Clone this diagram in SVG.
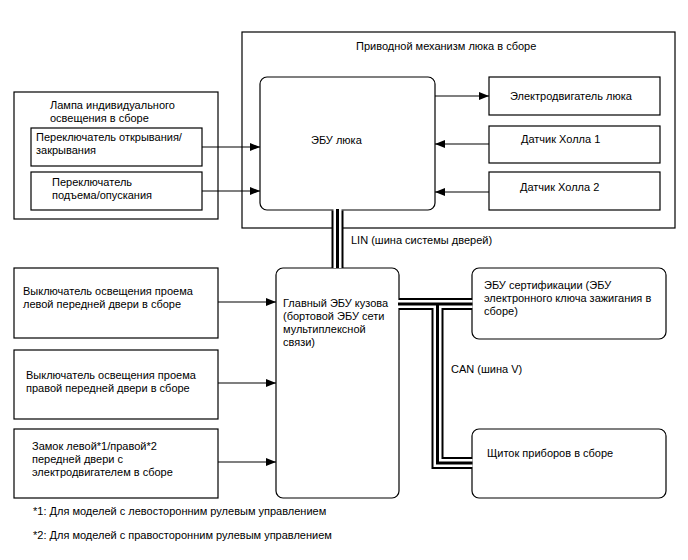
<svg xmlns="http://www.w3.org/2000/svg" width="688" height="560" viewBox="0 0 688 560">
<style>
text{font-family:"Liberation Sans",Arial,sans-serif;font-size:11px;fill:#000}
.box{fill:#fff;stroke:#000;stroke-width:1.2}
.ln{fill:none;stroke:#000;stroke-width:1.2}
.b1{fill:none;stroke:#000;stroke-width:12}
.b2{fill:none;stroke:#fff;stroke-width:8}
.b3{fill:none;stroke:#000;stroke-width:3}
</style>
<defs>
<marker id="ar" viewBox="0 0 10 8" refX="10" refY="4" markerWidth="10" markerHeight="8" markerUnits="userSpaceOnUse" orient="auto">
<path d="M0,0 L10,4 L0,8 Z" fill="#000"/>
</marker>
</defs>
<rect width="688" height="560" fill="#fff"/>
<g id="sunroof-assy"><rect class="box" x="242" y="32" width="433" height="196"/><text x="356" y="50">Приводной механизм люка в сборе</text></g>
<g id="lamp-assy"><rect class="box" x="14" y="92" width="204" height="127"/><text x="50" y="109">Лампа индивидуального</text><text x="50" y="122">освещения в сборе</text></g>
<g id="sw-open"><rect class="box" x="31" y="128" width="171" height="38"/><text x="36" y="141">Переключатель открывания/</text><text x="36" y="154">закрывания</text></g>
<g id="sw-tilt"><rect class="box" x="31" y="172" width="171" height="38"/><text x="52" y="186">Переключатель</text><text x="52" y="199">подъема/опускания</text></g>
<g id="sunroof-ecu"><rect class="box" x="260" y="77" width="175" height="133" rx="7"/><text x="311" y="144">ЭБУ люка</text></g>
<g id="motor"><rect class="box" x="489" y="77" width="171" height="38"/><text x="510" y="100">Электродвигатель люка</text></g>
<g id="hall1"><rect class="box" x="489" y="126" width="171" height="37"/><text x="521" y="143">Датчик Холла 1</text></g>
<g id="hall2"><rect class="box" x="489" y="172" width="171" height="38"/><text x="520" y="191">Датчик Холла 2</text></g>
<g id="lf-door"><rect class="box" x="14" y="268" width="204" height="70"/><text x="23" y="295">Выключатель освещения проема</text><text x="23" y="308">левой передней двери в сборе</text></g>
<g id="rf-door"><rect class="box" x="14" y="350" width="204" height="69"/><text x="26" y="379">Выключатель освещения проема</text><text x="26" y="392">правой передней двери в сборе</text></g>
<g id="door-lock"><rect class="box" x="14" y="429" width="204" height="69"/><text x="32" y="450">Замок левой*1/правой*2</text><text x="32" y="463">передней двери с</text><text x="32" y="476">электродвигателем в сборе</text></g>
<g id="main-body-ecu"><rect class="box" x="276" y="268" width="123" height="230" rx="7"/><text x="283" y="307">Главный ЭБУ кузова</text><text x="283" y="320">(бортовой ЭБУ сети</text><text x="283" y="333">мультиплексной</text><text x="283" y="346">связи)</text></g>
<g id="cert-ecu"><rect class="box" x="472" y="268" width="194" height="71" rx="7"/><text x="484" y="289">ЭБУ сертификации (ЭБУ</text><text x="484" y="302">электронного ключа зажигания в</text><text x="484" y="315">сборе)</text></g>
<g id="cluster"><rect class="box" x="472" y="429" width="194" height="69" rx="7"/><text x="487" y="457">Щиток приборов в сборе</text></g>
<g id="connectors">
<line class="ln" x1="202" y1="147" x2="260" y2="147" marker-end="url(#ar)"/>
<line class="ln" x1="202" y1="191" x2="260" y2="191" marker-end="url(#ar)"/>
<line class="ln" x1="435" y1="96" x2="489" y2="96" marker-end="url(#ar)"/>
<line class="ln" x1="489" y1="144" x2="435" y2="144" marker-end="url(#ar)"/>
<line class="ln" x1="489" y1="192" x2="435" y2="192" marker-end="url(#ar)"/>
<line class="ln" x1="218" y1="302" x2="276" y2="302" marker-end="url(#ar)"/>
<line class="ln" x1="218" y1="383" x2="276" y2="383" marker-end="url(#ar)"/>
<line class="ln" x1="218" y1="462" x2="276" y2="462" marker-end="url(#ar)"/>
<path class="b1" d="M337.5,210.5 V268"/>
<path class="b2" d="M337.5,209 V268"/>
<path class="b3" d="M337.5,209 V268"/>
<path class="b1" d="M399,304 H472 M437.5,304 V463 H472"/>
<path class="b2" d="M398,304 H472.5 M437.5,304 V463 H472.5"/>
<path class="b3" d="M398,304 H472.5 M437.5,304 V463 H472.5"/>
<text x="351" y="244">LIN (шина системы дверей)</text>
<text x="451" y="373">CAN (шина V)</text>
</g>
<text x="33" y="515">*1: Для моделей с левосторонним рулевым управлением</text>
<text x="33" y="539">*2: Для моделей с правосторонним рулевым управлением</text>
</svg>
